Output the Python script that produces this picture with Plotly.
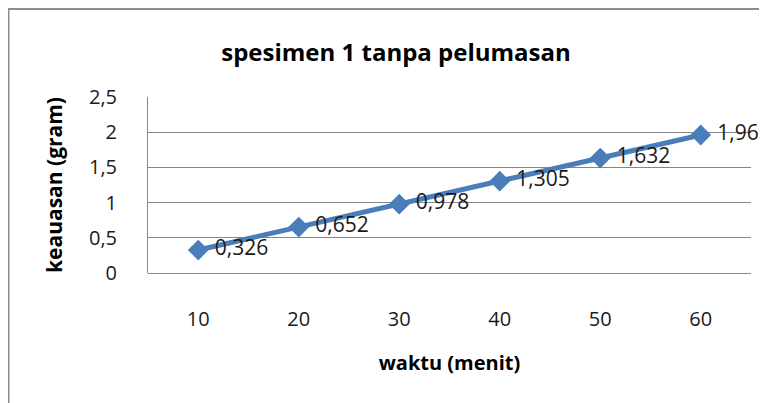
import plotly.graph_objects as go

waktu = ["10", "20", "30", "40", "50", "60"]
keausan = [0.326, 0.652, 0.978, 1.305, 1.632, 1.96]
y_ticks = [0, 0.5, 1, 1.5, 2, 2.5]
y_tick_labels = ["0", "0,5", "1", "1,5", "2", "2,5"]

labels = [" " + str(v).replace(".", ",") for v in keausan]

# the page body adds an 8 px offset, so figure coords = screen coords - 8
OFF = 8
W, H = 767, 403
L, R, T, B = 148 - OFF, W - (751 - OFF), 97 - OFF, H - (273 - OFF)
pw, ph = W - L - R, H - T - B

font = "Open Sans"
fig = go.Figure()
fig.add_trace(go.Scatter(
    x=waktu, y=keausan, mode="lines+markers+text",
    line=dict(color="#4A7EBB", width=5),
    marker=dict(symbol="diamond", size=16, color="#4A7EBB"),
    text=labels, textposition="middle right",
    textfont=dict(family=font, size=21, color="#1a1a1a"),
    cliponaxis=False, showlegend=False,
))

fig.update_layout(
    width=W, height=H,
    margin=dict(l=L, r=R, t=T, b=B),
    paper_bgcolor="white", plot_bgcolor="white",
    separators=",.",
    title=dict(text="<b>spesimen 1 tanpa pelumasan</b>", x=(396 - 148) / pw, xref="paper", xanchor="center",
               y=1 - (53 - OFF) / H, yanchor="middle", font=dict(family=font, size=24, color="#000000")),
    xaxis=dict(type="category", range=[-0.5, 5.5], showgrid=False, zeroline=False,
               showline=False, ticks="outside", ticklen=28, tickcolor="rgba(0,0,0,0)",
               automargin=False,
               tickfont=dict(family=font, size=20, color="#1a1a1a"),
               title=dict(text="<b>waktu (menit)</b>", standoff=24,
                          font=dict(family=font, size=20, color="#000000"))),
    yaxis=dict(range=[0, 2.5], tickvals=y_ticks, ticktext=y_tick_labels,
               showgrid=True, gridcolor="#868686", gridwidth=1,
               zeroline=True, zerolinecolor="#868686", zerolinewidth=1,
               showline=True, linecolor="#868686", linewidth=1,
               ticks="outside", ticklen=26, tickcolor="rgba(0,0,0,0)",
               automargin=False,
               tickfont=dict(family=font, size=20, color="#1a1a1a"),
               title=dict(text="<b>keauasan (gram)</b>", standoff=20,
                          font=dict(family=font, size=21, color="#000000"))),
    shapes=[dict(type="rect", xref="paper", yref="paper",
                 x0=(8.5 - 148) / pw, x1=(W + 20 - 148) / pw,
                 y0=-(B + 30) / ph, y1=(273 - 9) / ph,
                 line=dict(color="#8C8C8C", width=2), layer="below")],
)

fig.write_html("out.html")
